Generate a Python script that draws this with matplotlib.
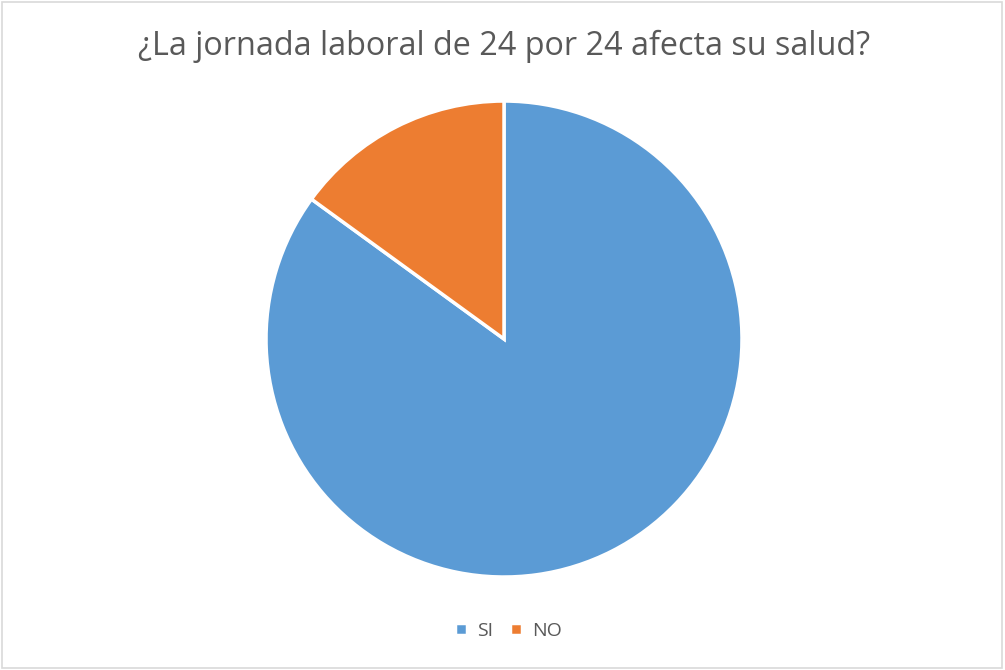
import matplotlib
matplotlib.use("Agg")
import matplotlib.pyplot as plt
from matplotlib.patches import Rectangle

categories = ["SI", "NO"]
values = [85, 15]
colors = ["#5B9BD5", "#ED7D31"]
title = "¿La jornada laboral de 24 por 24 afecta su salud?"

plt.rcParams['font.family'] = ['Open Sans', 'DejaVu Sans']

fig = plt.figure(figsize=(10.05, 6.70), dpi=100)
fig.patch.set_facecolor("white")

# chart border
fig.add_artist(Rectangle((0.002, 0.003), 0.995, 0.994, transform=fig.transFigure,
                         fill=False, edgecolor="#D9D9D9", linewidth=1.2))

ax = fig.add_axes([0.2647, 0.1388, 0.4736, 0.7104])
wedges, _ = ax.pie(values, colors=colors, startangle=90, counterclock=False,
                   radius=1.0, wedgeprops=dict(edgecolor="white", linewidth=2.5))
ax.set_xlim(-1.0, 1.0)
ax.set_ylim(-1.0, 1.0)
ax.set_aspect("equal")
ax.axis("off")

fig.text(0.5015, 1 - 46 / 670, title, ha="center", va="center",
         fontsize=23.3, color="#595959")

leg = fig.legend(wedges, categories, loc="center", bbox_to_anchor=(0.506, 1 - 631 / 670),
                 ncol=2, frameon=False, fontsize=14, handlelength=0.6, handleheight=0.6,
                 handletextpad=0.5, columnspacing=0.9)
for t in leg.get_texts():
    t.set_color("#595959")

fig.savefig("out.png", dpi=100, facecolor="white")
